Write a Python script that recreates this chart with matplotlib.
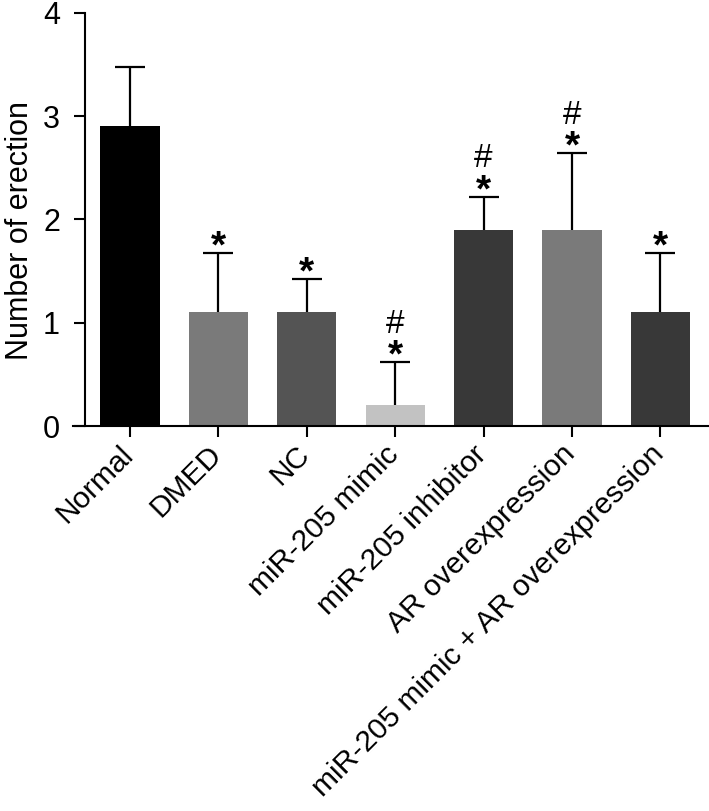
import matplotlib
matplotlib.use("Agg")
import matplotlib.pyplot as plt
from matplotlib.transforms import ScaledTranslation

categories = ["Normal", "DMED", "NC", "miR-205 mimic", "miR-205 inhibitor",
              "AR overexpression", "miR-205 mimic + AR overexpression"]
means = [2.9, 1.1, 1.1, 0.2, 1.9, 1.9, 1.1]
errors = [0.57, 0.57, 0.32, 0.42, 0.32, 0.74, 0.57]
colors = ["#000000", "#7a7a7a", "#545454", "#c2c2c2", "#383838", "#7a7a7a", "#383838"]
marks = ["", "*", "*", "#\n*", "#\n*", "#\n*", "*"]
yticks = [0, 1, 2, 3, 4]

plt.rcParams['font.family'] = ['Liberation Sans', 'DejaVu Sans']

fig = plt.figure(figsize=(7.09, 8.11), dpi=100)
ax = fig.add_axes([85/709, 1 - 426/811, 1 - 85/709, (426 - 12.7)/811])

x = list(range(len(categories)))
ax.bar(x, means, width=0.67, color=colors, edgecolor='none', zorder=2)
eb = ax.errorbar(x, means, yerr=[[0]*len(errors), errors], fmt='none', ecolor='black',
                 elinewidth=1.6, capsize=10.5, capthick=1.6, zorder=1)
# hide the lower caps (sitting on the bar tops)
eb[1][0].set_visible(False)

for xi, m, e, t in zip(x, means, errors, marks):
    if not t:
        continue
    lines = t.split("\n")
    off = -9
    for line in reversed(lines):
        if line == "*":
            ax.annotate("*", (xi, m + e), xytext=(0, off), textcoords='offset points',
                        ha='center', va='bottom', fontsize=28, fontweight='bold')
            off += 25
        else:
            ax.annotate("#", (xi, m + e), xytext=(0, off), textcoords='offset points',
                        ha='center', va='bottom', fontsize=24)
            off += 20

ax.set_xlim(-0.51, 6.55)
ax.set_ylim(0, 4)
ax.set_yticks(yticks)
ax.set_yticklabels([str(v) for v in yticks])
ax.set_xticks(x)
ax.set_xticklabels(categories, rotation=45, ha='right', rotation_mode='anchor')
ax.tick_params(axis='both', labelsize=22, width=1.5, length=8, direction='out', color='black')
ax.tick_params(axis='x', pad=5, labelsize=21.5)
ax.tick_params(axis='y', pad=10)
ax.set_ylabel("Number of erection", fontsize=22)
ax.yaxis.set_label_coords(-0.080, 0.472)

shift = ScaledTranslation(-11/100, 4/100, fig.dpi_scale_trans)
for lab in ax.get_xticklabels():
    lab.set_transform(lab.get_transform() + shift)

for s in ['top', 'right']:
    ax.spines[s].set_visible(False)
for s in ['left', 'bottom']:
    ax.spines[s].set_linewidth(1.5)
ax.spines['bottom'].set_bounds(-0.65, 6.6)

fig.savefig("out.png", dpi=100)
